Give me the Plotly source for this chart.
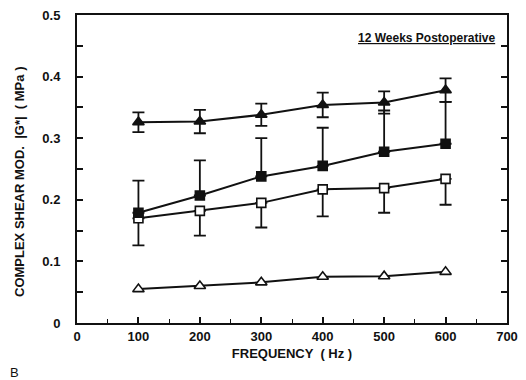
import plotly.graph_objects as go

freq = [100, 200, 300, 400, 500, 600]

filled_tri = [0.326, 0.327, 0.338, 0.354, 0.358, 0.378]
filled_tri_err = [0.016, 0.019, 0.018, 0.020, 0.018, 0.019]

filled_sq = [0.179, 0.207, 0.238, 0.255, 0.278, 0.291]
filled_sq_err_up = [0.052, 0.057, 0.062, 0.062, 0.067, 0.068]

open_sq = [0.170, 0.182, 0.195, 0.217, 0.219, 0.234]
open_sq_err_down = [0.044, 0.040, 0.040, 0.044, 0.040, 0.042]

open_tri = [0.055, 0.060, 0.066, 0.075, 0.076, 0.083]

x_ticks = [0, 100, 200, 300, 400, 500, 600, 700]
y_ticks = [0, 0.1, 0.2, 0.3, 0.4, 0.5]
y_ticktext = ["0", "0.1", "0.2", "0.3", "0.4", "0.5"]

BLACK = "#111"
FONT = "Liberation Sans"

# page body has an 8px margin: compensate so the plot lands where the reference has it
W, H = 518, 372
ML, MR, MT, MB = 69, 19, 7, 57

fig = go.Figure()


def add(y, symbol, fill, size, err=None):
    kw = {}
    if err is not None:
        kw["error_y"] = err
    fig.add_trace(go.Scatter(
        x=freq, y=y, mode="lines+markers",
        line=dict(color=BLACK, width=2),
        marker=dict(symbol=symbol, size=size, color=fill,
                    line=dict(color=BLACK, width=1.6)),
        showlegend=False, cliponaxis=False, **kw))


add(open_sq, "square", "white", 9,
    dict(type="data", symmetric=False, array=[0] * 6, arrayminus=open_sq_err_down,
         color=BLACK, thickness=1.8, width=6))
add(filled_sq, "square", BLACK, 9,
    dict(type="data", symmetric=False, array=filled_sq_err_up, arrayminus=[0] * 6,
         color=BLACK, thickness=1.8, width=6))
add(filled_tri, "triangle-up", BLACK, 10,
    dict(type="data", array=filled_tri_err, color=BLACK, thickness=1.8, width=6))
add(open_tri, "triangle-up", "white", 10)

plot_h = H - MT - MB
plot_w = W - ML - MR

fig.update_layout(
    width=W, height=H,
    margin=dict(l=ML, r=MR, t=MT, b=MB, autoexpand=False),
    plot_bgcolor="white", paper_bgcolor="white",
    font=dict(family=FONT, color=BLACK, size=12),
    xaxis=dict(range=[0, 700], tickvals=x_ticks, automargin=False,
               ticklabeloverflow="allow",
               ticks="inside", ticklen=6, tickwidth=1.5, tickcolor=BLACK,
               minor=dict(tickvals=[50, 150, 250, 350, 450, 550, 650], ticks="inside",
                          ticklen=4, tickcolor=BLACK, tickwidth=1.2),
               showline=True, linecolor=BLACK, linewidth=2, mirror=True,
               showgrid=False, zeroline=False,
               tickfont=dict(family=FONT, size=13, weight="bold"),
               title=dict(text="FREQUENCY  ( Hz )", standoff=6,
                          font=dict(family=FONT, size=13, weight="bold"))),
    yaxis=dict(range=[0, 0.5], tickvals=y_ticks, ticktext=y_ticktext, automargin=False,
               ticklabeloverflow="allow",
               ticks="inside", ticklen=6, tickwidth=1.5, tickcolor=BLACK,
               ticklabelstandoff=12,
               minor=dict(tickvals=[0.05, 0.15, 0.25, 0.35, 0.45], ticks="inside",
                          ticklen=6, tickcolor=BLACK, tickwidth=1.5),
               showline=True, linecolor=BLACK, linewidth=2, mirror="allticks",
               showgrid=False, zeroline=False,
               tickfont=dict(family=FONT, size=13, weight="bold")),
    annotations=[
        dict(text="<u>12 Weeks Postoperative</u>", xref="paper", yref="paper",
             x=0.98, y=0.955, xanchor="right", yanchor="top", showarrow=False,
             font=dict(family=FONT, size=12, weight="bold")),
        dict(text="COMPLEX SHEAR MOD.  |G*|  ( MPa )", textangle=-90,
             xref="paper", yref="paper",
             x=-(ML - 12) / plot_w, y=(plot_h / 2 - 13) / plot_h,
             xanchor="center", yanchor="middle", showarrow=False,
             font=dict(family=FONT, size=13, weight="bold")),
        dict(text="B", xref="paper", yref="paper",
             x=-ML / plot_w, y=-40 / plot_h,
             xanchor="left", yanchor="top", showarrow=False,
             font=dict(family=FONT, size=13)),
    ],
)

fig.write_html("out.html")
